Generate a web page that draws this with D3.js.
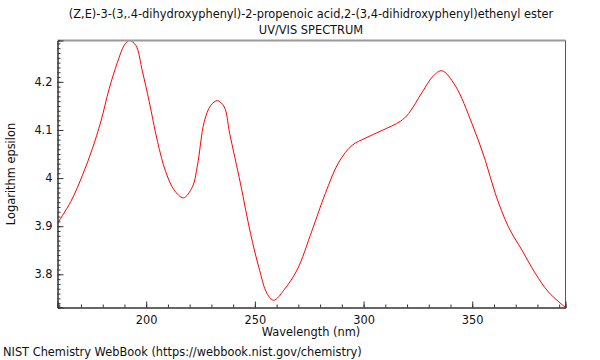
<!DOCTYPE html>
<html><head><meta charset="utf-8">
<script src="https://cdn.jsdelivr.net/npm/d3@7"></script>
<style>body{margin:0;background:#fff}svg{display:block;font-family:"DejaVu Sans",sans-serif}</style>
</head><body>
<script>
const titleLines = ["(Z,E)-3-(3,.4-dihydroxyphenyl)-2-propenoic acid,2-(3,4-dihidroxyphenyl)ethenyl ester", "UV/VIS SPECTRUM"];
const xLabel = "Wavelength (nm)";
const yLabel = "Logarithm epsilon";
const footer = "NIST Chemistry WebBook (https://webbook.nist.gov/chemistry)";
const wavelength = [159.2,165.3,170.7,175.3,179.1,183.0,186.8,189.9,192.2,195.2,198.3,201.4,205.2,209.0,212.9,217.1,221.3,223.6,226.7,229.7,232.8,235.9,238.4,243.4,248.0,251.8,255.6,258.7,263.3,269.4,276.3,282.4,288.6,294.7,300.8,308.5,316.9,320.7,326.9,332.2,336.1,342.2,349.9,356.0,360.6,366.7,372.9,379.0,385.1,392.9];
const logEps = [3.906,3.951,4.006,4.062,4.117,4.186,4.241,4.276,4.286,4.276,4.221,4.159,4.076,4.013,3.975,3.959,3.982,4.027,4.117,4.151,4.161,4.148,4.093,3.988,3.885,3.815,3.760,3.746,3.767,3.809,3.891,3.968,4.033,4.068,4.083,4.099,4.118,4.134,4.178,4.213,4.223,4.192,4.113,4.037,3.968,3.898,3.850,3.802,3.763,3.731];
const xTicks = [200,250,300,350];
const yTicks = [3.8,3.9,4,4.1,4.2];

const W=600,H=360,FS=11.4;
const m={l:57.5,r:565.5,t:40.5,b:307.5};
const svg=d3.select("body").append("svg").attr("width",W).attr("height",H);
const data=wavelength.map((w,i)=>({x:w,y:logEps[i]}));
const x=d3.scaleLinear().domain(d3.extent(wavelength)).range([m.l,m.r]);
const y=d3.scaleLinear().domain(d3.extent(logEps)).range([m.b,m.t]);

// title
svg.append("text").attr("x",311).attr("y",17.5).attr("text-anchor","middle").attr("font-size",FS).attr("fill","#111").text(titleLines[0]);
svg.append("text").attr("x",311).attr("y",34).attr("text-anchor","middle").attr("font-size",FS).attr("fill","#111").text(titleLines[1]);

// curve
svg.append("clipPath").attr("id","c").append("rect").attr("x",m.l).attr("y",m.t-1).attr("width",m.r-m.l).attr("height",m.b-m.t+2);
svg.append("path").datum(data).attr("clip-path","url(#c)")
 .attr("d",d3.line().x(d=>x(d.x)).y(d=>y(d.y)).curve(d3.curveCatmullRom.alpha(0.5)))
 .attr("fill","none").attr("stroke","#ff0000").attr("stroke-width",1);

// frame
svg.append("line").attr("x1",m.l).attr("x2",m.r).attr("y1",m.t).attr("y2",m.t).attr("stroke","#999").attr("stroke-width",2);
svg.append("line").attr("x1",m.r).attr("x2",m.r).attr("y1",m.t).attr("y2",m.b).attr("stroke","#555").attr("stroke-width",1);

// x axis
const xMinor=d3.range(160,393,10);
const gx=svg.append("g").attr("transform",`translate(0,${m.b})`);
gx.call(d3.axisBottom(x).tickValues(xMinor).tickSize(-3).tickFormat(""));
gx.append("g").call(d3.axisBottom(x).tickValues(xTicks).tickSize(-6).tickFormat(d3.format("d")));
gx.selectAll(".domain").attr("stroke","#333");
gx.selectAll("line").attr("stroke","#333");
gx.selectAll("text").attr("font-size",FS).attr("fill","#111").attr("font-family","DejaVu Sans").attr("dy",0).attr("y",16);

// y axis
const yMinor=d3.range(3.74,4.29,0.01).map(v=>+v.toFixed(2));
const gy=svg.append("g").attr("transform",`translate(${m.l},0)`);
gy.call(d3.axisLeft(y).tickValues(yMinor).tickSize(-3).tickFormat(""));
gy.append("g").call(d3.axisLeft(y).tickValues(yTicks).tickSize(-6).tickFormat(d=>String(d)));
gy.selectAll(".domain").attr("stroke","#333");
gy.selectAll("line").attr("stroke","#333");
gy.selectAll("text").attr("font-size",FS).attr("fill","#111").attr("font-family","DejaVu Sans").attr("x",-5);

// labels
svg.append("text").attr("x",311).attr("y",336).attr("text-anchor","middle").attr("font-size",FS).attr("fill","#111").text(xLabel);
svg.append("text").attr("transform","translate(15,174) rotate(-90)").attr("text-anchor","middle").attr("font-size",FS).attr("fill","#111").text(yLabel);
svg.append("text").attr("x",3).attr("y",356).attr("font-size",FS).attr("fill","#111").text(footer);
</script>
</body></html>
